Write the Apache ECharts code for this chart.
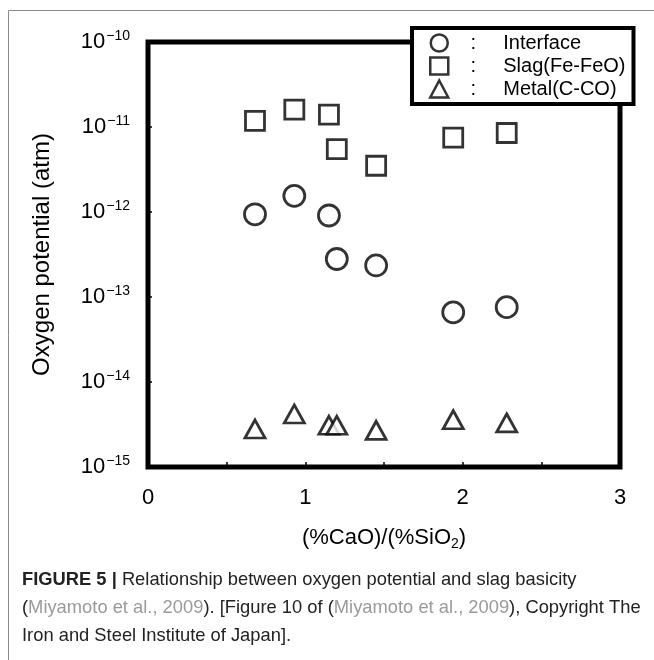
<!DOCTYPE html>
<html>
<head>
<meta charset="utf-8">
<script src="https://cdn.jsdelivr.net/npm/echarts@6/dist/echarts.min.js"></script>
<style>
html,body{margin:0;padding:0;background:#fff;}
#c5{width:654px;height:660px;}
</style>
</head>
<body>
<div id="c5"></div>
<script>
// basicity (%CaO)/(%SiO2)
var basicity = [0.68, 0.93, 1.15, 1.2, 1.45, 1.94, 2.28];
// oxygen potential (atm)
var interfacePO2 = [9.4e-13, 1.55e-12, 9.1e-13, 2.8e-13, 2.35e-13, 6.6e-14, 7.6e-14];
var slagPO2 = [1.18e-11, 1.6e-11, 1.4e-11, 5.5e-12, 3.5e-12, 7.5e-12, 8.5e-12];
var metalPO2 = [2.8e-15, 4.2e-15, 3.1e-15, 3.1e-15, 2.7e-15, 3.6e-15, 3.3e-15];
var seriesNames = ['Interface', 'Slag(Fe-FeO)', 'Metal(C-CO)'];
var xTicks = ['0', '1', '2', '3'];

var sans = '"Liberation Sans", sans-serif';

function pairs(ys){
    var out = [];
    for(var i=0; i<basicity.length; ++i){
        out.push([basicity[i], ys[i]]);
    }
    return out
}

var chart = echarts.init(document.getElementById('c5'));
var markStyle = {color:'#fff', borderColor:'#000', borderWidth:2.8};

var option = {
    animation:false,
    backgroundColor:'#fff',
    grid:{
        left:148, top:42, width:472, height:425,
        show:true, borderColor:'#000', borderWidth:5, backgroundColor:'transparent'
    },
    legend:{
        orient:'vertical',
        left:412, top:28,
        padding:[5,8,5,17],
        itemGap:3,
        itemWidth:18,
        itemHeight:17,
        backgroundColor:'#fff',
        borderColor:'#000',
        borderWidth:4,
        borderRadius:0,
        selectedMode:false,
        data:seriesNames,
        itemStyle:{borderWidth:2.5, borderColor:'#000', color:'#fff'},
        formatter:function(name){
            return '{c|:}{n|' + name + '}';
        },
        textStyle:{
            color:'#000',
            fontFamily:sans,
            fontSize:20,
            lineHeight:20,
            rich:{
                c:{width:40, align:'center', fontSize:20, fontFamily:sans},
                n:{fontSize:20, fontFamily:sans, padding:[0,0,0,10]}
            }
        }
    },
    xAxis:{
        type:'value',
        min:0, max:3, interval:0.5,
        name:'{a|(%CaO)/(%SiO}{s|2}{a|)}',
        nameLocation:'middle',
        nameGap:58,
        nameTextStyle:{
            rich:{
                a:{fontSize:22, color:'#000', fontFamily:sans},
                s:{fontSize:14, color:'#000', fontFamily:sans, padding:[12,0,0,0]}
            }
        },
        axisLine:{show:false},
        axisTick:{show:true, inside:true, length:5, lineStyle:{color:'#000', width:1.5}},
        splitLine:{show:false},
        axisLabel:{
            margin:20,
            color:'#000',
            fontSize:22,
            fontFamily:sans,
            formatter:function(v){
                return v % 1 === 0 ? xTicks[v] : '';
            }
        }
    },
    yAxis:{
        type:'log',
        logBase:10,
        min:1e-15, max:1e-10,
        name:'Oxygen potential (atm)',
        nameLocation:'middle',
        nameGap:94,
        nameTextStyle:{color:'#000', fontSize:24, fontFamily:sans},
        axisLine:{show:false},
        axisTick:{show:true, inside:true, length:4, lineStyle:{color:'#000', width:1.5}},
        splitLine:{show:false},
        axisLabel:{
            margin:18,
            color:'#000',
            formatter:function(v){
                var e = Math.round(Math.log(v) / Math.LN10);
                return '{b|10}{s|\u2212' + (-e) + '}';
            },
            rich:{
                b:{fontSize:22, fontFamily:sans, color:'#000'},
                s:{fontSize:14, fontFamily:sans, color:'#000', padding:[0,0,12,1]}
            }
        }
    },
    graphic:[
        {
            type:'rect', silent:true, z:-1,
            shape:{x:8.5, y:10.5, width:700, height:700},
            style:{fill:null, stroke:'#8a8a8a', lineWidth:1}
        },
        {
            type:'text', x:22, y:570, scaleX:0.965,
            style:{
                text:'{b|FIGURE 5 |} Relationship between oxygen potential and slag basicity',
                font:'19px ' + sans,
                fill:'#222',
                verticalAlign:'top',
                rich:{b:{fontWeight:'bold', fontSize:19, fontFamily:sans, fill:'#222'}}
            }
        },
        {
            type:'text', x:22, y:598, scaleX:0.965,
            style:{
                text:'({g|Miyamoto et al., 2009}). [Figure 10 of ({g|Miyamoto et al., 2009}), Copyright The',
                font:'19px ' + sans,
                fill:'#222',
                verticalAlign:'top',
                rich:{g:{fontSize:19, fontFamily:sans, fill:'#9a9a9a'}}
            }
        },
        {
            type:'text', x:22, y:626, scaleX:0.965,
            style:{
                text:'Iron and Steel Institute of Japan].',
                font:'19px ' + sans,
                fill:'#222',
                verticalAlign:'top'
            }
        }
    ],
    series:[
        {
            name:seriesNames[0], type:'scatter',
            symbol:'circle', symbolSize:21,
            itemStyle:markStyle,
            data:pairs(interfacePO2)
        },
        {
            name:seriesNames[1], type:'scatter',
            symbol:'rect', symbolSize:19,
            itemStyle:markStyle,
            data:pairs(slagPO2)
        },
        {
            name:seriesNames[2], type:'scatter',
            symbol:'triangle', symbolSize:[20,18],
            itemStyle:markStyle,
            data:pairs(metalPO2)
        }
    ]
};
chart.setOption(option);
</script>
</body>
</html>
